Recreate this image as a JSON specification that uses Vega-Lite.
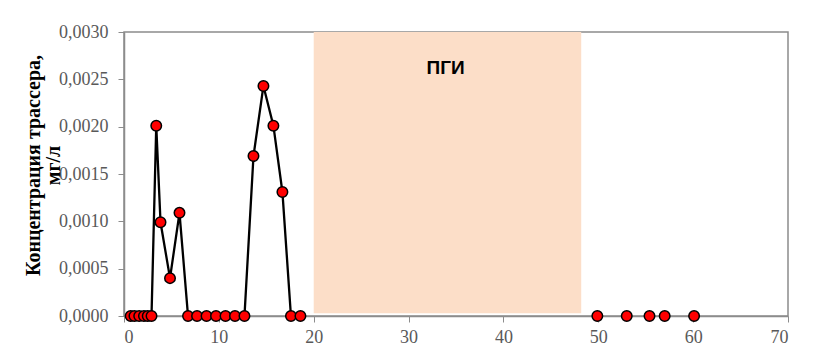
{
  "$schema": "https://vega.github.io/schema/vega-lite/v6.json",
  "width": 664,
  "height": 284,
  "autosize": {"type": "none"},
  "padding": {"left": 124, "top": 32, "right": 26, "bottom": 43},
  "background": "white",
  "config": {
    "view": {"stroke": "#8c8c8c", "strokeWidth": 1.5},
    "axis": {
      "grid": false,
      "domainColor": "#8c8c8c",
      "domainWidth": 1.5,
      "tickColor": "#8c8c8c",
      "tickWidth": 1,
      "tickSize": 6,
      "labelFont": "Liberation Serif",
      "labelFontSize": 18,
      "labelColor": "#595959"
    }
  },
  "datasets": {
    "tracer": [
      {"t": 0.7, "c": 0, "seg": 1},
      {"t": 1.1, "c": 0, "seg": 1},
      {"t": 1.6, "c": 0, "seg": 1},
      {"t": 2.1, "c": 0, "seg": 1},
      {"t": 2.5, "c": 0, "seg": 1},
      {"t": 2.9, "c": 0, "seg": 1},
      {"t": 3.4, "c": 0.00201, "seg": 1},
      {"t": 3.85, "c": 0.00099, "seg": 1},
      {"t": 4.85, "c": 0.0004, "seg": 1},
      {"t": 5.85, "c": 0.00109, "seg": 1},
      {"t": 6.75, "c": 0, "seg": 1},
      {"t": 7.7, "c": 0, "seg": 1},
      {"t": 8.7, "c": 0, "seg": 1},
      {"t": 9.7, "c": 0, "seg": 1},
      {"t": 10.7, "c": 0, "seg": 1},
      {"t": 11.7, "c": 0, "seg": 1},
      {"t": 12.7, "c": 0, "seg": 1},
      {"t": 13.65, "c": 0.00169, "seg": 1},
      {"t": 14.7, "c": 0.00243, "seg": 1},
      {"t": 15.75, "c": 0.00201, "seg": 1},
      {"t": 16.7, "c": 0.00131, "seg": 1},
      {"t": 17.6, "c": 0, "seg": 1},
      {"t": 18.6, "c": 0, "seg": 1},
      {"t": 49.9, "c": 0, "seg": 2},
      {"t": 53.0, "c": 0, "seg": 2},
      {"t": 55.4, "c": 0, "seg": 2},
      {"t": 57.0, "c": 0, "seg": 2},
      {"t": 60.1, "c": 0, "seg": 2}
    ],
    "zone": [
      {"start": 20, "end": 48.2, "low": 0.00003, "high": 0.003, "label": "ПГИ", "lx": 33.9, "ly": 0.00262}
    ]
  },
  "layer": [
    {
      "data": {"name": "zone"},
      "mark": {"type": "rect", "color": "#FCDEC8"},
      "encoding": {
        "x": {"field": "start", "type": "quantitative", "scale": {"domain": [0, 70], "nice": false}, "axis": {"values": [0, 10, 20, 30, 40, 50, 60, 70], "title": null, "labelPadding": 6, "labelFont": "Liberation Serif", "labelFontSize": 18}},
        "x2": {"field": "end"},
        "y": {"field": "low", "type": "quantitative", "scale": {"domain": [0, 0.003], "nice": false}, "axis": {
          "values": [0, 0.0005, 0.001, 0.0015, 0.002, 0.0025, 0.003],
          "labelExpr": "replace(format(datum.value, '.4f'), '.', ',')",
          "labelFont": "Liberation Serif",
          "labelFontSize": 18,
          "labelPadding": 10,
          "title": ["Концентрация трассера,", "мг/л"],
          "titleFont": "Liberation Serif",
          "titleFontSize": 20,
          "titleFontWeight": "bold",
          "titleColor": "#000000",
          "titleAngle": -90,
          "titleAlign": "center",
          "titleBaseline": "middle",
          "titleLineHeight": 20,
          "titleX": -91,
          "titleY": 133
        }},
        "y2": {"field": "high"}
      }
    },
    {
      "data": {"name": "zone"},
      "mark": {"type": "text", "font": "Liberation Sans", "fontSize": 19, "fontWeight": "bold", "color": "#000000", "baseline": "middle", "align": "center"},
      "encoding": {
        "x": {"field": "lx", "type": "quantitative"},
        "y": {"field": "ly", "type": "quantitative"},
        "text": {"field": "label"}
      }
    },
    {
      "data": {"name": "tracer"},
      "transform": [{"filter": "datum.seg == 1"}],
      "mark": {"type": "line", "color": "#000000", "strokeWidth": 2.3},
      "encoding": {
        "x": {"field": "t", "type": "quantitative"},
        "y": {"field": "c", "type": "quantitative"}
      }
    },
    {
      "data": {"name": "tracer"},
      "mark": {"type": "point", "shape": "circle", "filled": true, "fill": "#FF0000", "stroke": "#000000", "strokeWidth": 1.5, "size": 110, "opacity": 1},
      "encoding": {
        "x": {"field": "t", "type": "quantitative"},
        "y": {"field": "c", "type": "quantitative"}
      }
    }
  ]
}
